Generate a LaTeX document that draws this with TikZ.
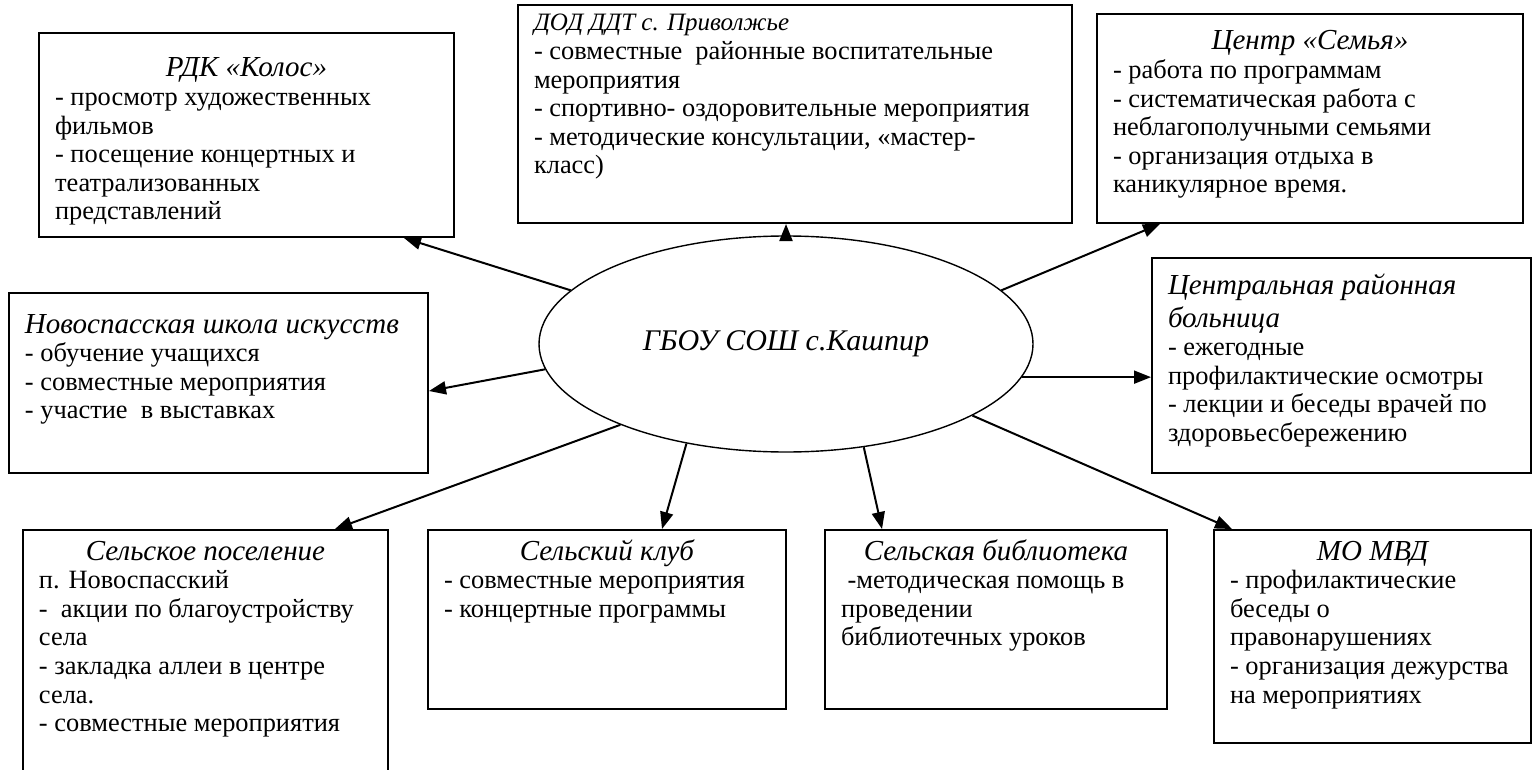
\documentclass[tikz,border=0pt]{standalone}
\usepackage{fontspec}
\setmainfont{Liberation Serif}
\usetikzlibrary{shapes.geometric, arrows.meta, calc}

\newcommand{\titlefont}{\itshape\fontsize{14.5}{16.5}\selectfont}
% optional argument: height of the first line, moves the text down in its box
\newcommand{\ttlc}[2][14pt]{{\centering\titlefont\rule{0pt}{#1}#2\par}}
\newcommand{\ttll}[2][14pt]{{\raggedright\titlefont\rule{0pt}{#1}#2\par}}

\begin{document}
\begin{tikzpicture}[x=0.5pt, y=-0.5pt,
    orgbox/.style={draw, line width=1pt, anchor=north west, inner xsep=8pt, inner ysep=4pt, font=\fontsize{13.2}{14.3}\selectfont},
    school/.style={draw, ellipse, line width=0.7pt, inner sep=0pt, minimum width=247pt, minimum height=108pt, font=\itshape\fontsize{15}{17}\selectfont},
    link/.style={-{Triangle[length=8.5pt, width=6.5pt]}, line width=1pt}]
\useasboundingbox (0,0) rectangle (1540,770);
\clip (0,0) rectangle (1540,770);

% centre
\node[school] (gbou) at (786,344) {ГБОУ СОШ с.Кашпир};

% top row
\node[orgbox] (rdk) at (38,32) {\parbox[t][94pt][t]{191.5pt}{\raggedright\ttlc[18pt]{РДК «Колос»}
- просмотр художественных\\ фильмов\\ - посещение концертных и\\ театрализованных\\ представлений}};
\node[orgbox] (dod) at (517,4) {\parbox[t][101pt][t]{261pt}{\raggedright{\itshape\fontsize{12.5}{14}\selectfont\rule{0pt}{9pt}ДОД ДДТ с. Приволжье\par}
- совместные\ \ районные воспитательные\\ мероприятия\\ - спортивно- оздоровительные мероприятия\\ - методические консультации, «мастер-\\ класс)}};
\node[orgbox] (centr) at (1096,13) {\parbox[t][96.5pt][t]{197pt}{\raggedright\ttlc[14pt]{Центр «Семья»}
- работа по программам\\ - систематическая работа с\\ неблагополучными семьями\\ - организация отдыха в\\ каникулярное время.}};

% middle row
\node[orgbox] (nov) at (8,292) {\parbox[t][82pt][t]{193.5pt}{\raggedright\ttll[16pt]{Новоспасская школа искусств}
- обучение учащихся\\ - совместные мероприятия\\ - участие\ \ в выставках}};
\node[orgbox] (crb) at (1151,257) {\parbox[t][99.5pt][t]{173.5pt}{\raggedright\ttll[14pt]{Центральная районная\\ больница}
- ежегодные\\ профилактические осмотры\\ - лекции и беседы врачей по\\ здоровьесбережению}};

% bottom row
\node[orgbox] (pos) at (22,529) {\parbox[t][122pt][t]{166.5pt}{\raggedright\ttlc[11pt]{Сельское поселение}
п. Новоспасский\\ -\ \ акции по благоустройству\\ села\\ - закладка аллеи в центре\\ села.\\ - совместные мероприятия}};
\node[orgbox] (klub) at (427,529) {\parbox[t][81.5pt][t]{163pt}{\raggedright\ttlc[11pt]{Сельский клуб}
- совместные мероприятия\\ - концертные программы}};
\node[orgbox] (bib) at (824,529) {\parbox[t][81.5pt][t]{155pt}{\raggedright\ttlc[11pt]{Сельская библиотека}
\ -методическая помощь в\\ проведении\\ библиотечных уроков}};
\node[orgbox] (mvd) at (1213,529) {\parbox[t][98.5pt][t]{142.5pt}{\raggedright\ttlc[11pt]{МО МВД}
- профилактические\\ беседы о\\ правонарушениях\\ - организация дежурства\\ на мероприятиях}};

% arrows
\draw[link] (gbou.166) -- ($(rdk.south east)+(-51,0)$);
\draw[link] (gbou.north) -- (gbou.north |- dod.south);
\draw[link] (gbou.14) -- ($(centr.south west)+(64,0)$);
\draw[link] (gbou.186) -- ($(nov.north east)+(0,99)$);
\draw[link] (gbou.352) -- (gbou.352 -| crb.west);
\draw[link] (gbou.206) -- ($(pos.north east)+(-54,0)$);
\draw[link] (gbou.225) -- ($(klub.north west)+(235,0)$);
\draw[link] (gbou.307) -- ($(bib.north west)+(58,0)$);
\draw[link] (gbou.339) -- ($(mvd.north west)+(19,0)$);
\end{tikzpicture}
\end{document}
